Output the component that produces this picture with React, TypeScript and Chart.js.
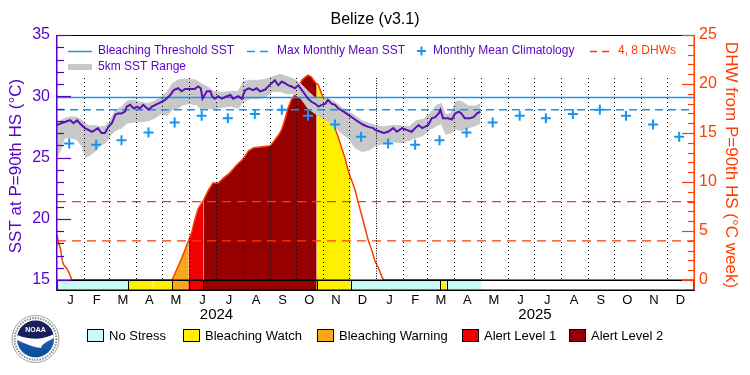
import React, { useEffect, useRef } from 'react';
import { Chart, registerables } from 'chart.js';

Chart.register(...registerables);

// ---------- DATA ----------
const monthLetters = ['J', 'F', 'M', 'A', 'M', 'J', 'J', 'A', 'S', 'O', 'N', 'D'];
const monthLengths = [31, 29, 31, 30, 31, 30, 31, 31, 30, 31, 30, 31, 31, 28, 31, 30, 31, 30, 31, 31, 30, 31, 30, 31];
const yearLabels = ['2024', '2025'];
const yearLengths = [366, 365];

// Monthly mean climatology (Jan..Dec)
const climatology = [26.15, 26.05, 26.4, 27.05, 27.85, 28.4, 28.2, 28.55, 28.9, 28.4, 27.7, 26.7];
const maxMonthlyMean = 28.9;
const bleachingThreshold = 29.9;
const dhwLevels = [4, 8];

// day index from 1 Jan 2024
const sstDays = [0, 5, 9, 15, 19, 23, 26, 32, 36, 40, 44, 47, 51, 55, 59, 63, 67, 70, 74, 78, 80, 84, 88, 92, 95, 99, 105, 109, 113, 116, 120, 124, 130, 134, 139, 143, 147, 153, 158, 162, 165, 167, 172, 176, 178, 181, 185, 189, 195, 199, 202, 208, 212, 216, 220, 225, 229, 233, 239, 243, 246, 250, 254, 258, 262, 265, 269, 273, 277, 281, 285, 288, 292, 296, 300, 304, 308, 311, 315, 319, 323, 329, 334, 340, 346, 352, 357, 363, 365, 371, 375, 380, 386, 390, 396, 401, 407, 411, 415, 419, 422, 426, 430, 434, 438, 440, 443, 449, 453, 457, 461, 464, 468, 474, 478, 482, 486];
const sstValues = [27.65, 27.8, 27.9, 28.05, 27.8, 28.05, 27.8, 27.4, 27.25, 27.1, 27.25, 27.4, 27.0, 27.0, 27.5, 27.8, 28.5, 28.6, 28.6, 28.75, 29.15, 29.3, 29.0, 29.15, 29.0, 29.3, 28.9, 29.15, 29.3, 29.4, 29.55, 29.7, 30.1, 30.5, 30.65, 30.4, 30.6, 30.6, 30.6, 30.8, 30.65, 29.8, 30.4, 30.4, 30.0, 29.8, 30.0, 29.8, 30.0, 30.1, 29.8, 30.0, 29.8, 30.5, 30.65, 30.5, 30.65, 30.4, 30.55, 30.85, 31.05, 31.3, 30.9, 31.2, 31.05, 30.9, 30.8, 30.65, 30.9, 30.5, 30.1, 29.8, 29.55, 29.4, 29.15, 29.3, 29.4, 29.7, 29.4, 29.3, 29.0, 28.75, 28.5, 28.2, 27.9, 27.65, 27.5, 27.4, 27.25, 27.1, 27.0, 27.1, 27.4, 27.1, 27.4, 27.25, 27.1, 27.4, 27.65, 27.4, 27.5, 27.65, 28.2, 28.3, 28.6, 28.9, 28.2, 28.2, 28.1, 28.6, 28.75, 28.6, 28.2, 28.2, 28.3, 28.6, 28.75];

const rangeDays = [0, 4, 9, 15, 22, 28, 33, 38, 44, 50, 56, 61, 67, 74, 80, 88, 96, 104, 112, 120, 126, 132, 138, 145, 152, 160, 166, 172, 180, 190, 200, 208, 214, 222, 232, 240, 248, 256, 264, 272, 280, 288, 296, 303, 310, 318, 326, 334, 342, 350, 358, 366, 374, 384, 394, 404, 412, 420, 428, 436, 441, 446, 452, 458, 464, 472, 480, 486];
const rangeMax = [27.9, 28.0, 28.2, 28.3, 28.3, 28.1, 27.7, 27.6, 27.6, 27.5, 27.6, 28.0, 28.9, 29.1, 29.6, 29.7, 29.5, 29.4, 29.6, 30.0, 30.3, 31.0, 31.3, 31.4, 31.4, 31.3, 31.0, 30.8, 30.4, 30.3, 30.4, 30.4, 31.2, 31.3, 31.3, 31.4, 31.6, 31.8, 31.6, 31.4, 31.0, 30.4, 29.9, 29.7, 29.8, 29.6, 29.1, 28.8, 28.4, 28.0, 27.8, 27.6, 27.5, 27.6, 27.6, 27.5, 28.0, 28.1, 28.6, 29.3, 29.4, 28.5, 28.6, 29.6, 29.6, 29.2, 29.2, 29.4];
const rangeMin = [25.0, 25.6, 26.6, 26.6, 26.5, 26.0, 25.0, 25.2, 25.5, 26.0, 26.2, 26.8, 27.2, 27.4, 27.8, 27.9, 27.9, 28.0, 28.2, 28.6, 28.4, 28.9, 29.0, 29.3, 29.4, 29.3, 28.9, 29.0, 29.0, 29.1, 29.2, 29.0, 29.6, 29.8, 29.8, 30.0, 30.4, 30.4, 30.2, 30.2, 29.8, 29.0, 28.6, 28.3, 28.0, 27.6, 27.0, 26.6, 25.8, 25.5, 25.6, 26.0, 26.1, 26.3, 26.2, 26.4, 26.6, 26.8, 27.3, 27.6, 27.8, 26.9, 27.0, 27.3, 27.2, 27.4, 27.6, 27.8];

const dhwDays = [0, 2, 4, 6, 8, 11, 14, 17, 132, 137, 143, 147, 151, 155, 158, 162, 168, 170, 174, 179, 185, 191, 198, 206, 214, 220, 226, 236, 245, 250, 255, 258, 262, 265, 269, 273, 277, 281, 285, 288, 292, 296, 298, 300, 304, 308, 311, 315, 319, 323, 327, 331, 334, 337, 338, 342, 346, 350, 354, 357, 361, 365, 369, 373, 375, 486];
const dhwValues = [4.6, 3.7, 3.2, 2.0, 1.5, 1.2, 0.7, 0, 0, 1.0, 2.2, 3.1, 4.0, 5.0, 6.1, 7.3, 8.1, 8.5, 9.2, 9.9, 9.9, 10.4, 10.9, 11.7, 12.4, 13.2, 13.5, 13.6, 13.7, 14.3, 14.9, 15.4, 16.5, 17.5, 18.4, 18.9, 19.6, 20.4, 20.7, 20.9, 20.7, 20.2, 20.05, 19.9, 18.9, 18.2, 17.5, 16.5, 15.5, 14.5, 13.4, 12.3, 11.2, 10.4, 10.2, 9.2, 7.8, 6.5, 5.1, 4.1, 3.1, 1.9, 1.2, 0.3, 0, 0];

// status: 0 no stress, 1 watch, 2 warning, 3 alert 1, 4 alert 2
const statusStart = [0, 81, 110, 111, 132, 151, 168, 298, 337, 440, 447];
const statusLevel = [0, 1, 0, 1, 2, 3, 4, 1, 0, 1, 0];
const statusEnd = 487;
const statusNames = ['No Stress', 'Bleaching Watch', 'Bleaching Warning', 'Alert Level 1', 'Alert Level 2'];

// ---------- STYLE ----------
const FONT = '"Liberation Sans", Arial, sans-serif';
const PURPLE = '#5a00c8';
const SST_PURPLE = '#5a10b8';
const BLUE = '#1496f0';
const ORANGE = '#ff3c00';
const GRAY = '#c8c8c8';
const statusColors = ['#c8fafa', '#fff000', '#f8a818', '#f00000', '#960000'];

const monthStarts: number[] = [];
{
  let acc = 0;
  for (const l of monthLengths) { monthStarts.push(acc); acc += l; }
  monthStarts.push(acc);
}
const totalDays = monthStarts[monthStarts.length - 1];
const monthMids = monthLengths.map((l, i) => monthStarts[i] + l / 2);
const climDays = monthLengths.map((_, i) => monthStarts[i] + 14);
const yearStarts = [0, yearLengths[0]];

function levelAt(day: number) {
  if (day >= statusEnd) return -1;
  let lvl = -1;
  for (let i = 0; i < statusStart.length; i++) if (day >= statusStart[i]) lvl = statusLevel[i];
  return lvl;
}

function drawLogo(ctx: CanvasRenderingContext2D) {
  const cx = 35.5, cy = 339, R = 23.5;
  ctx.save();
  ctx.beginPath(); ctx.arc(cx, cy, R, 0, Math.PI * 2);
  ctx.fillStyle = '#fff'; ctx.fill();
  ctx.lineWidth = 1; ctx.strokeStyle = '#a0a0a0'; ctx.stroke();
  ctx.beginPath(); ctx.arc(cx, cy, R - 2.6, 0, Math.PI * 2);
  ctx.setLineDash([1.5, 1.2]); ctx.strokeStyle = '#8a8a8a'; ctx.lineWidth = 2; ctx.stroke();
  ctx.setLineDash([]);
  const r = R - 5;
  ctx.beginPath(); ctx.arc(cx, cy, r, 0, Math.PI * 2);
  const g = ctx.createLinearGradient(0, cy - r, 0, cy + r);
  g.addColorStop(0, '#2a74c8'); g.addColorStop(1, '#0a4a9a');
  ctx.fillStyle = g; ctx.fill();
  ctx.save(); ctx.clip();
  ctx.fillStyle = '#1a1f5c';
  ctx.beginPath();
  ctx.moveTo(cx - r, cy - r); ctx.lineTo(cx + r, cy - r); ctx.lineTo(cx + r, cy - 5);
  ctx.quadraticCurveTo(cx + 2, cy + 4, cx - r, cy - 4);
  ctx.closePath(); ctx.fill();
  ctx.fillStyle = '#fff';
  ctx.beginPath();
  ctx.moveTo(cx - r, cy - 4);
  ctx.quadraticCurveTo(cx + 2, cy + 4, cx + r, cy - 5);
  ctx.lineTo(cx + r, cy - 1);
  ctx.quadraticCurveTo(cx + 4, cy + 6, cx + 6, cy + 9);
  ctx.quadraticCurveTo(cx - 4, cy + 8, cx - r, cy + 1);
  ctx.closePath(); ctx.fill();
  ctx.restore();
  ctx.fillStyle = '#fff';
  ctx.font = 'bold 7px ' + FONT;
  ctx.textAlign = 'center'; ctx.textBaseline = 'middle';
  ctx.fillText('NOAA', cx, cy - 9);
  ctx.restore();
}

const decor = {
  id: 'decor',
  afterDatasetDraw(chart: any, args: any) {
    if (args.index !== 4) return;
    const { ctx, chartArea, scales } = chart;
    const x = scales.x, y = scales.y;
    const bottom = y.getPixelForValue(15);
    ctx.save();
    ctx.strokeStyle = '#000';
    ctx.lineWidth = 1;
    for (let i = 1; i < monthStarts.length - 1; i++) {
      const d = monthStarts[i];
      const px = Math.round(x.getPixelForValue(d)) + 0.5;
      ctx.setLineDash(d === yearStarts[1] ? [1, 1.5] : [1, 3]);
      ctx.beginPath(); ctx.moveTo(px, 78); ctx.lineTo(px, bottom); ctx.stroke();
    }
    ctx.restore();
  },
  afterDraw(chart: any) {
    const { ctx, chartArea, scales } = chart;
    const x = scales.x, y = scales.y, y2 = scales.y2;
    const L = chartArea.left, Rr = chartArea.right, T = chartArea.top, B = chartArea.bottom;
    ctx.save();

    // status bar
    const sTop = Math.round(y.getPixelForValue(15));
    ctx.fillStyle = '#fff';
    ctx.fillRect(L, sTop, Rr - L, B - sTop);
    for (let i = 0; i < statusStart.length; i++) {
      const x0 = x.getPixelForValue(statusStart[i]);
      const x1 = x.getPixelForValue(i + 1 < statusStart.length ? statusStart[i + 1] : statusEnd);
      ctx.fillStyle = statusColors[statusLevel[i]];
      ctx.fillRect(x0, sTop, x1 - x0, B - sTop);
    }
    ctx.strokeStyle = '#000'; ctx.lineWidth = 1;
    for (let i = 1; i < statusStart.length; i++) {
      const prevW = statusStart[i] - statusStart[i - 1];
      const nextW = (i + 1 < statusStart.length ? statusStart[i + 1] : statusEnd) - statusStart[i];
      if (prevW < 2 || nextW < 2) continue;
      const px = Math.round(x.getPixelForValue(statusStart[i])) + 0.5;
      ctx.beginPath(); ctx.moveTo(px, sTop); ctx.lineTo(px, B); ctx.stroke();
    }
    ctx.lineWidth = 1.5;
    ctx.strokeRect(L, sTop + 0.25, Rr - L, B - sTop);

    // top border
    ctx.lineWidth = 1.2;
    ctx.beginPath(); ctx.moveTo(L, T + 0.5); ctx.lineTo(Rr, T + 0.5); ctx.stroke();

    // left axis
    ctx.strokeStyle = PURPLE; ctx.lineWidth = 1.5;
    ctx.beginPath(); ctx.moveTo(L - 0.25, T); ctx.lineTo(L - 0.25, B); ctx.stroke();
    ctx.lineWidth = 1.2;
    for (let v = 15; v <= 35; v++) {
      const py = Math.round(y.getPixelForValue(v)) + 0.5;
      const len = v % 5 === 0 ? 14 : 7;
      ctx.beginPath(); ctx.moveTo(L, py); ctx.lineTo(L + len, py); ctx.stroke();
    }
    // right axis
    ctx.strokeStyle = ORANGE; ctx.lineWidth = 1.5;
    ctx.beginPath(); ctx.moveTo(Rr + 0.25, T); ctx.lineTo(Rr + 0.25, B); ctx.stroke();
    ctx.lineWidth = 1.2;
    for (let v = 0; v <= 25; v++) {
      const py = Math.round(y2.getPixelForValue(v)) + 0.5;
      const len = v % 5 === 0 ? 12 : 6;
      ctx.beginPath(); ctx.moveTo(Rr, py); ctx.lineTo(Rr - len, py); ctx.stroke();
    }

    // title
    ctx.fillStyle = '#000';
    ctx.font = '16px ' + FONT;
    ctx.textAlign = 'center'; ctx.textBaseline = 'middle';
    ctx.fillText('Belize (v3.1)', 375, 20);

    // years
    ctx.font = '15px ' + FONT;
    yearLabels.forEach((lab, i) => {
      const mid = yearStarts[i] + yearLengths[i] / 2;
      ctx.fillText(lab, x.getPixelForValue(mid), 315);
    });

    // axis titles
    ctx.save();
    ctx.translate(16, 166);
    ctx.rotate(-Math.PI / 2);
    ctx.fillStyle = PURPLE;
    ctx.font = '17px ' + FONT;
    ctx.fillText('SST at P=90th HS (°C)', 0, 0);
    ctx.restore();
    ctx.save();
    ctx.translate(731, 165);
    ctx.rotate(Math.PI / 2);
    ctx.fillStyle = ORANGE;
    ctx.font = '17px ' + FONT;
    ctx.fillText('DHW from P=90th HS (°C week)', 0, 0);
    ctx.restore();

    // top legend
    ctx.font = '12px ' + FONT;
    ctx.textAlign = 'left'; ctx.textBaseline = 'middle';
    const seg = (x0: number, x1: number, yy: number, color: string, dash: number[], w: number) => {
      ctx.save(); ctx.strokeStyle = color; ctx.lineWidth = w; ctx.setLineDash(dash);
      ctx.beginPath(); ctx.moveTo(x0, yy); ctx.lineTo(x1, yy); ctx.stroke(); ctx.restore();
    };
    seg(68, 92, 51.5, BLUE, [], 1.5);
    ctx.fillStyle = PURPLE; ctx.fillText('Bleaching Threshold SST', 98, 51);
    seg(247, 271, 51.5, BLUE, [8, 5], 1.5);
    ctx.fillStyle = PURPLE; ctx.fillText('Max Monthly Mean SST', 277, 51);
    ctx.save(); ctx.strokeStyle = BLUE; ctx.lineWidth = 2;
    ctx.beginPath(); ctx.moveTo(417, 51); ctx.lineTo(426, 51); ctx.moveTo(421.5, 46.5); ctx.lineTo(421.5, 55.5); ctx.stroke(); ctx.restore();
    ctx.fillStyle = PURPLE; ctx.fillText('Monthly Mean Climatology', 433, 51);
    seg(590, 612, 51.5, ORANGE, [7, 5], 1.5);
    ctx.fillStyle = ORANGE; ctx.fillText('4, 8 DHWs', 618, 51);
    seg(68, 92, 67, GRAY, [], 6);
    ctx.fillStyle = PURPLE; ctx.fillText('5km SST Range', 98, 67);

    // bottom legend
    ctx.font = '13px ' + FONT;
    const boxX = [87, 183, 317, 462, 569];
    statusNames.forEach((name, i) => {
      ctx.fillStyle = statusColors[i];
      ctx.fillRect(boxX[i], 329, 16, 12);
      ctx.strokeStyle = '#000'; ctx.lineWidth = 1;
      ctx.strokeRect(boxX[i] + 0.5, 329.5, 16, 12);
      ctx.fillStyle = '#000';
      ctx.fillText(name, boxX[i] + 22, 336);
    });

    drawLogo(ctx);
    ctx.restore();
  },
};

export default function App() {
  const ref = useRef<HTMLCanvasElement | null>(null);
  useEffect(() => {
    const canvas = ref.current;
    if (!canvas) return;
    const pts = (xs: number[], ys: number[]) => xs.map((d, i) => ({ x: d, y: ys[i] }));
    const flat = (v: number) => [{ x: 0, y: v }, { x: totalDays, y: v }];
    const chart = new Chart(canvas, {
      type: 'line',
      data: {
        datasets: [
          {
            label: 'DHW', data: pts(dhwDays, dhwValues), yAxisID: 'y2',
            borderColor: ORANGE, borderWidth: 1.5, pointRadius: 0, tension: 0,
            fill: 'origin', backgroundColor: 'rgba(0,0,0,0)',
            segment: {
              backgroundColor: (c: any) => {
                const lvl = levelAt(c.p0.parsed.x);
                return lvl > 0 ? statusColors[lvl] : 'rgba(0,0,0,0)';
              },
            },
            order: 10,
          } as any,
          { label: '4 DHW', data: flat(dhwLevels[0]), yAxisID: 'y2', borderColor: ORANGE, borderDash: [9, 6], borderWidth: 1.3, pointRadius: 0, fill: false, order: 9 },
          { label: '8 DHW', data: flat(dhwLevels[1]), yAxisID: 'y2', borderColor: ORANGE, borderDash: [9, 6], borderWidth: 1.3, pointRadius: 0, fill: false, order: 9 },
          { label: 'max', data: pts(rangeDays, rangeMax), yAxisID: 'y', borderColor: GRAY, borderWidth: 1, backgroundColor: GRAY, fill: '+1', pointRadius: 0, order: 8 },
          { label: 'min', data: pts(rangeDays, rangeMin), yAxisID: 'y', borderColor: GRAY, borderWidth: 1, fill: false, pointRadius: 0, order: 7 },
          {
            label: 'Monthly Mean Climatology', data: climDays.map((d, i) => ({ x: d, y: climatology[i % 12] })), yAxisID: 'y',
            showLine: false, pointStyle: 'cross', pointRadius: 5, pointBorderWidth: 2, borderColor: BLUE, backgroundColor: BLUE, order: 5,
          },
          { label: 'MMM', data: flat(maxMonthlyMean), yAxisID: 'y', borderColor: BLUE, borderDash: [8, 5], borderWidth: 1.5, pointRadius: 0, fill: false, order: 4 },
          { label: 'Threshold', data: flat(bleachingThreshold), yAxisID: 'y', borderColor: BLUE, borderWidth: 1.5, pointRadius: 0, fill: false, order: 3 },
          { label: 'SST', data: pts(sstDays, sstValues), yAxisID: 'y', borderColor: SST_PURPLE, borderWidth: 2, pointRadius: 0, fill: false, tension: 0, order: 1 },
        ],
      },
      options: {
        responsive: false,
        animation: false,
        devicePixelRatio: 1,
        layout: { padding: { top: 35, left: 0, right: 0, bottom: 0 } },
        plugins: { legend: { display: false }, tooltip: { enabled: false }, title: { display: false } },
        scales: {
          x: {
            type: 'linear', min: 0, max: totalDays, position: 'bottom',
            grid: { display: false, drawTicks: false }, border: { display: false },
            ticks: {
              autoSkip: false, maxRotation: 0, minRotation: 0, padding: 3, color: '#000',
              font: { family: FONT, size: 13 },
              callback: (_v: any, i: number) => monthLetters[i % 12],
            },
            afterBuildTicks: (s: any) => { s.ticks = monthMids.map((v) => ({ value: v })); },
            afterFit: (s: any) => { s.height = 85; },
          },
          y: {
            position: 'left', min: 15 - 10 / 12.25, max: 35,
            grid: { display: false, drawTicks: false }, border: { display: false },
            ticks: { color: PURPLE, padding: 7, font: { family: FONT, size: 16 } },
            afterBuildTicks: (s: any) => { s.ticks = [15, 20, 25, 30, 35].map((v) => ({ value: v })); },
            afterFit: (s: any) => { s.width = 57; },
          },
          y2: {
            position: 'right', min: -10 / 9.8, max: 25,
            grid: { display: false, drawTicks: false }, border: { display: false },
            ticks: { color: ORANGE, padding: 5, font: { family: FONT, size: 16 } },
            afterBuildTicks: (s: any) => { s.ticks = [0, 5, 10, 15, 20, 25].map((v) => ({ value: v })); },
            afterFit: (s: any) => { s.width = 56; },
          },
        },
      } as any,
      plugins: [decor],
    });
    return () => chart.destroy();
  }, []);
  return (
    <div style={{ position: 'absolute', left: 0, top: 0, width: 750, height: 375, background: '#fff' }}>
      <canvas ref={ref} width={750} height={375} style={{ display: 'block', width: 750, height: 375 }} />
    </div>
  );
}
